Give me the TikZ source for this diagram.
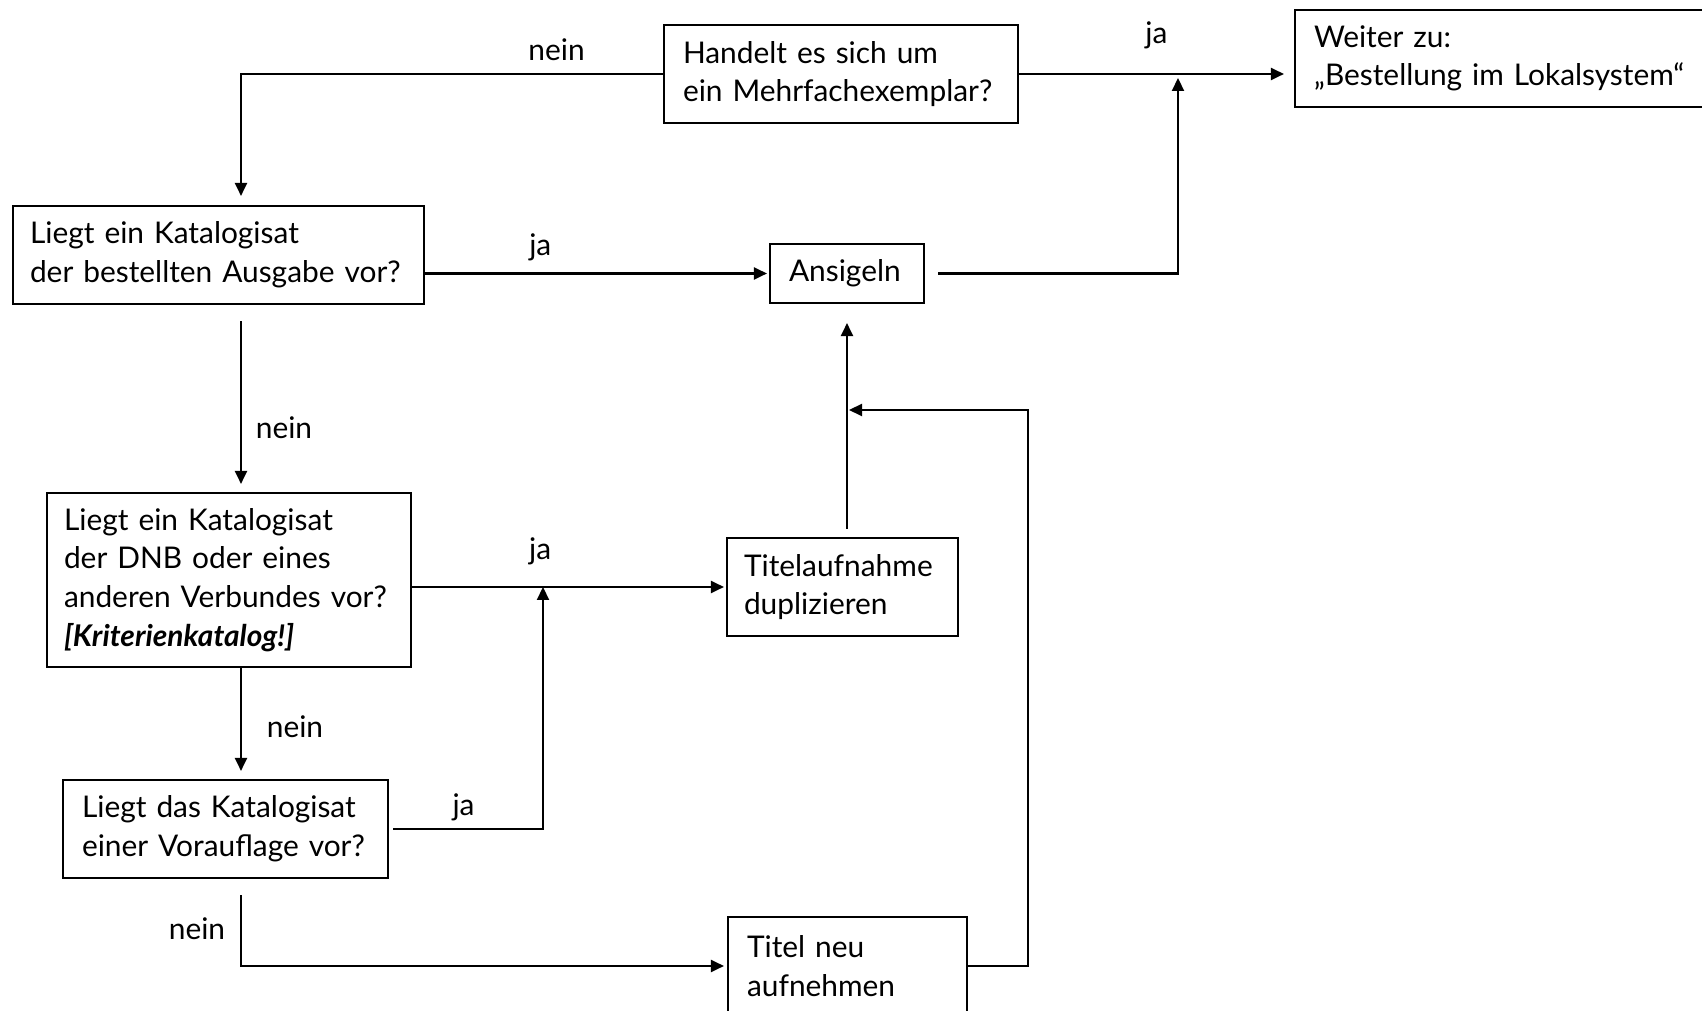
\documentclass[tikz,border=0pt]{standalone}
\usepackage{fontspec}
\setmainfont{Lato}
\usetikzlibrary{arrows.meta}
\hyphenpenalty=10000

\begin{document}
\begin{tikzpicture}[->,>={Triangle[length=1.3mm,width=1.2mm]},semithick,
  box node/.style={rectangle,fill=white,draw,align=left,inner xsep=0.19cm,inner ysep=0pt,
    font=\fontsize{8.5}{11}\selectfont},
  label node/.style={font=\fontsize{8.5}{11}\selectfont}]

  \useasboundingbox (0,0) rectangle (17.02,-10.11);

  \node[box node] (1) [text width=3.16cm, minimum height=0.98cm] at (8.41,-0.74) {Handelt es sich um\\ein Mehrfachexemplar?};
  \node[box node] (2) [text width=3.92cm, minimum height=0.97cm] at (15.10,-0.585) {Weiter zu:\\„Bestellung im Lokalsystem“};
  \node[box node] (3) [text width=3.77cm, inner xsep=0.17cm, minimum height=0.98cm] at (2.185,-2.55) {Liegt ein Katalogisat\\der bestellten Ausgabe vor?};
  \node[box node] (4) [text width=1.16cm, minimum height=0.59cm] at (8.47,-2.735) {Ansigeln};
  \node[box node] (5) [text width=3.30cm, inner xsep=0.17cm, minimum height=1.74cm] at (2.29,-5.80) {Liegt ein Katalogisat\\der DNB oder eines\\anderen Verbundes vor?\\\textbf{\textit{[Kriterienkatalog!]}}};
  \node[box node] (6) [text width=1.97cm, inner xsep=0.17cm, minimum height=0.98cm] at (8.425,-5.87) {Titelaufnahme\\duplizieren};
  \node[box node] (7) [text width=2.87cm, minimum height=0.98cm] at (2.255,-8.29) {Liegt das Katalogisat\\einer Vorauflage vor?};
  \node[box node] (8) [text width=2.01cm, minimum height=0.98cm] at (8.475,-9.66) {Titel neu\\aufnehmen};

  \coordinate (col) at (2.41,0);
  \coordinate (j1) at (11.78,0);
  \coordinate (j3) at (5.43,0);
  \coordinate (r1) at (10.28,-4.10);

  % top row
  \draw [shorten >=0.09cm] (1.west) -| (col |- 3.north)
    node [label node, pos=0.126, yshift=0.24cm] (nein1) {nein};
  \draw [shorten >=0.1cm] (1.east) -- (1.east -| 2.west)
    node [label node, midway, yshift=0.39cm] (ja1) {ja};
  \draw [shorten <=0.13cm, shorten >=0.04cm] (4.east) -| (j1 |- 1.east);
  % left column
  \draw [shorten >=0.02cm] (3.east |- 4.west) -- (4.west)
    node [label node, pos=0.335, yshift=0.26cm] (ja2) {ja};
  \draw [shorten <=0.16cm, shorten >=0.08cm] (col |- 3.south) -- (col |- 5.north)
    node [label node, pos=0.656, xshift=0.43cm] (nein2) {nein};
  \draw [shorten >=0.02cm] (5.east |- 6.west) -- (6.west)
    node [label node, pos=0.408, yshift=0.36cm] (ja3) {ja};
  \draw [shorten >=0.08cm] (col |- 5.south) -- (col |- 7.north)
    node [label node, pos=0.53, xshift=0.54cm] (nein3) {nein};
  \draw [shorten <=0.04cm] (7.east) -| (j3 |- 6.west)
    node [label node, pos=0.242, yshift=0.22cm] (ja4) {ja};
  \draw [shorten <=0.16cm, shorten >=0.03cm] (col |- 7.south) |- (8.west)
    node [label node, pos=0.284, xshift=-0.44cm] (nein4) {nein};
  % right side
  \draw [shorten <=0.08cm, shorten >=0.19cm] (4.south |- 6.north) -- (4.south);
  \draw [shorten >=0.02cm] (8.east) -| (r1) -- (r1 -| 4.south);
\end{tikzpicture}
\end{document}
